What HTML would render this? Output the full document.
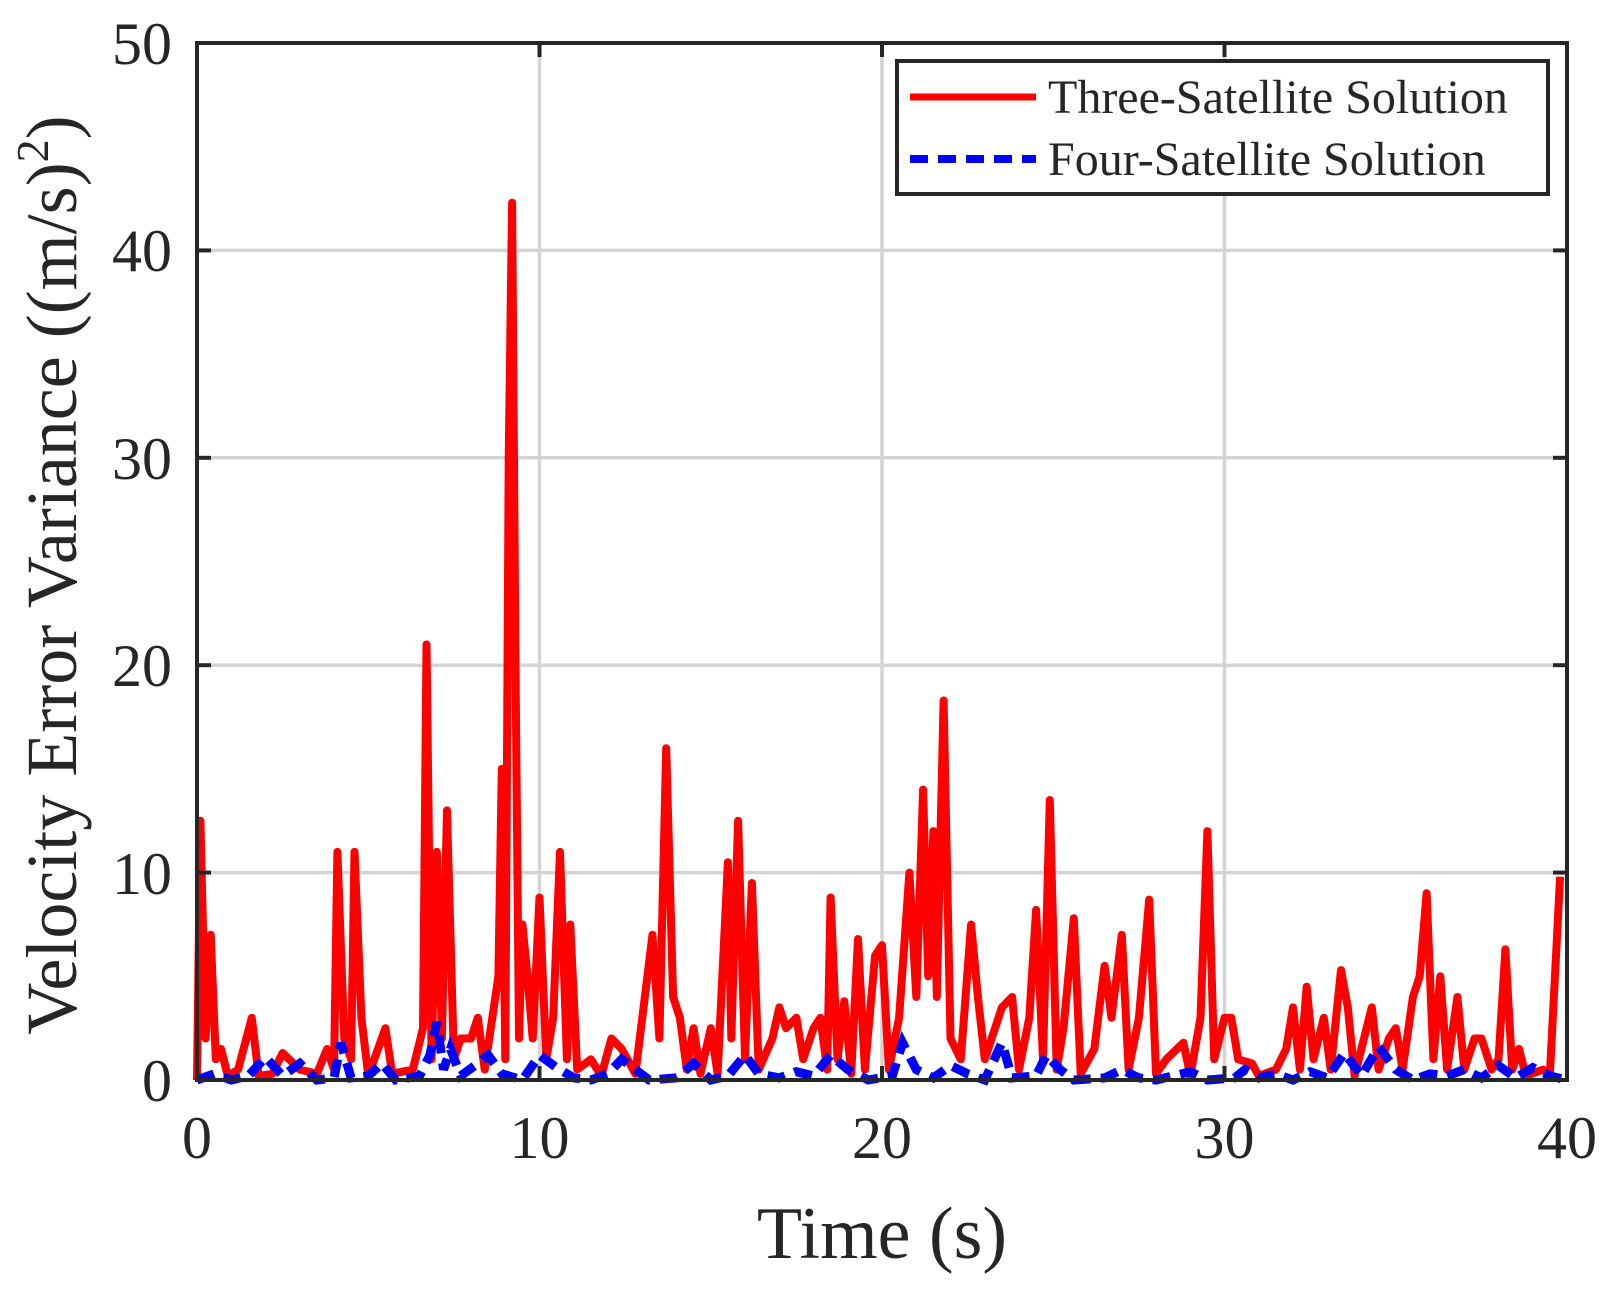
<!DOCTYPE html>
<html><head><meta charset="utf-8"><style>
html,body{margin:0;padding:0;background:#fff}
svg text{font-family:"Liberation Serif",serif;fill:#262626}
</style></head><body>
<svg id="s" width="1618" height="1285" viewBox="0 0 1618 1285" xmlns="http://www.w3.org/2000/svg">
<rect width="1618" height="1285" fill="#fff"/>
<g stroke="#d4d4d4" stroke-width="3.5">
<line x1="539.5" y1="43" x2="539.5" y2="1080"/>
<line x1="882" y1="43" x2="882" y2="1080"/>
<line x1="1224.5" y1="43" x2="1224.5" y2="1080"/>
<line x1="197" y1="872.6" x2="1567" y2="872.6"/>
<line x1="197" y1="665.2" x2="1567" y2="665.2"/>
<line x1="197" y1="457.8" x2="1567" y2="457.8"/>
<line x1="197" y1="250.4" x2="1567" y2="250.4"/>
</g>
<polyline id="red" fill="none" stroke="#ff0000" stroke-width="8" stroke-linejoin="round"/>
<polyline id="blue" fill="none" stroke="#0000ff" stroke-width="9" stroke-dasharray="18 10"/>
<g stroke="#262626" stroke-width="4">
<rect x="197" y="43" width="1370" height="1037" fill="none"/>
<line x1="539.5" y1="1080" x2="539.5" y2="1066"/><line x1="882" y1="1080" x2="882" y2="1066"/><line x1="1224.5" y1="1080" x2="1224.5" y2="1066"/>
<line x1="539.5" y1="43" x2="539.5" y2="57"/><line x1="882" y1="43" x2="882" y2="57"/><line x1="1224.5" y1="43" x2="1224.5" y2="57"/>
<line x1="197" y1="872.6" x2="211" y2="872.6"/><line x1="197" y1="665.2" x2="211" y2="665.2"/><line x1="197" y1="457.8" x2="211" y2="457.8"/><line x1="197" y1="250.4" x2="211" y2="250.4"/>
<line x1="1567" y1="872.6" x2="1553" y2="872.6"/><line x1="1567" y1="665.2" x2="1553" y2="665.2"/><line x1="1567" y1="457.8" x2="1553" y2="457.8"/><line x1="1567" y1="250.4" x2="1553" y2="250.4"/>
</g>
<g font-size="60" text-anchor="middle">
<text x="197" y="1158">0</text><text x="539.5" y="1158">10</text><text x="882" y="1158">20</text><text x="1224.5" y="1158">30</text><text x="1567" y="1158">40</text>
</g>
<g font-size="60" text-anchor="end">
<text x="172" y="1101">0</text><text x="172" y="894">10</text><text x="172" y="686">20</text><text x="172" y="479">30</text><text x="172" y="271">40</text><text x="172" y="64">50</text>
</g>
<text x="882" y="1258" font-size="74" text-anchor="middle">Time (s)</text>
<text transform="translate(76,575) rotate(-90)" font-size="72" text-anchor="middle">Velocity Error Variance ((m/s)<tspan font-size="46" dy="-28">2</tspan><tspan dy="28">)</tspan></text>
<rect x="897" y="61" width="651" height="133" fill="#fff" stroke="#262626" stroke-width="4"/>
<line x1="910" y1="97" x2="1036" y2="97" stroke="#ff0000" stroke-width="7"/>
<line x1="910" y1="159" x2="1036" y2="159" stroke="#0000ff" stroke-width="8" stroke-dasharray="18 10"/>
<text x="1048" y="113" font-size="48">Three-Satellite Solution</text>
<text x="1048" y="175" font-size="48">Four-Satellite Solution</text>
</svg>
<script>
var R=[0,0,0.1,12.5,0.25,2,0.4,7,0.55,1,0.7,1.5,0.9,0.2,1.2,0.5,1.6,3,1.8,0.2,2.2,0.3,2.5,1.3,3,0.5,3.5,0.3,3.8,1.5,4,0.5,4.1,11,4.3,2,4.5,1,4.6,11,4.8,3,5,0.2,5.5,2.5,5.7,0.3,6.3,0.5,6.6,2.5,6.7,21,6.85,1,7,11,7.15,2,7.3,13,7.5,1,7.7,2,8,2,8.2,3,8.4,0.5,8.8,5,8.9,15,9.0,1,9.1,30,9.2,42.3,9.3,20,9.4,2,9.5,7.5,9.65,5,9.8,2,10,8.8,10.2,1,10.4,3,10.6,11,10.8,1,10.9,7.5,11.1,0.5,11.5,1,11.8,0.2,12.1,2,12.4,1.5,12.8,0.3,13.3,7,13.5,2,13.7,16,13.9,4,14.1,3,14.3,0.5,14.5,2.5,14.7,0.3,15,2.5,15.2,0.3,15.5,10.5,15.6,2,15.8,12.5,16,1,16.2,9.5,16.4,0.5,16.8,2,17,3.5,17.2,2.5,17.5,3,17.7,1,18,2.5,18.2,3,18.4,0.5,18.5,8.8,18.7,1,18.9,3.8,19.1,0.3,19.3,6.8,19.5,0.5,19.8,6,20,6.5,20.2,0.5,20.5,3,20.8,10,21,4,21.2,14,21.35,5,21.5,12,21.6,4,21.8,18.3,22,2,22.3,1,22.6,7.5,22.8,4,23,1,23.5,3.5,23.8,4,24,0.5,24.3,3,24.5,8.2,24.7,1,24.9,13.5,25.1,0.5,25.3,2.5,25.6,7.8,25.8,0.3,26.2,1.5,26.5,5.5,26.7,3,27,7,27.2,0.5,27.5,3,27.8,8.7,28,0.3,28.3,1,28.8,1.8,29,0.2,29.3,3,29.5,12,29.7,1,30,3,30.2,3,30.4,1,30.8,0.8,31,0.2,31.5,0.5,31.8,1.5,32,3.5,32.2,0.5,32.4,4.5,32.6,1,32.9,3,33.1,0.5,33.4,5.3,33.6,3.5,33.8,0.2,34.3,3.5,34.5,0.5,34.8,2,35,2.5,35.2,0.5,35.5,4,35.7,5,35.9,9,36.1,1,36.3,5,36.5,0.5,36.8,4,37,0.5,37.3,2,37.5,2,37.8,0.5,38,1,38.2,6.3,38.4,0.5,38.6,1.5,38.8,0.2,39.3,0.5,39.5,0.3,39.8,9.8];
var B=[0,0,0.5,0.3,1,0,1.5,0.2,2,1.1,2.5,0.2,3,0.8,3.5,0,4,0.1,4.2,1.8,4.5,0.1,5,0.2,5.4,0.8,5.8,0,6.5,0.2,6.8,1.2,7,2.8,7.2,0.5,7.4,1.5,7.7,0.2,8.2,0.8,8.5,1.2,8.9,0.3,9.5,0,10,1.2,10.5,0.6,11,0.1,11.5,0,12,0.3,12.4,1,12.8,0.5,13.2,0,14,0.1,14.5,0.8,15,0,15.5,0.2,16,1.2,16.4,0.3,17,0.1,17.5,0.4,18,0.2,18.5,1.2,19,0.5,19.6,0,20.3,0.2,20.6,1.8,21,0.5,21.5,0.1,22,0.7,22.5,0.3,23,0,23.5,1.8,23.8,0.1,24.5,0.2,24.8,1.2,25.2,0.5,25.6,0,26.5,0.1,27,0.5,27.5,0.1,28,0,28.5,0.2,29,0.4,29.5,0,30.3,0.1,30.6,0.5,31,0.1,31.5,0.3,32,0,32.5,0.4,33,0.1,33.5,1.3,34,0.2,34.5,1.6,35,0.5,35.5,0,36,0.3,36.5,0.2,37,0.5,37.5,0.1,38,0.7,38.5,0.1,39,0.6,39.5,0.2,40,0];
function pts(a){var s=[];for(var i=0;i<a.length;i+=2){s.push((197+a[i]*34.25).toFixed(1)+','+(1080-a[i+1]*20.74).toFixed(1));}return s.join(' ');}
document.getElementById('red').setAttribute('points',pts(R));
document.getElementById('blue').setAttribute('points',pts(B));
</script>
</body></html>
